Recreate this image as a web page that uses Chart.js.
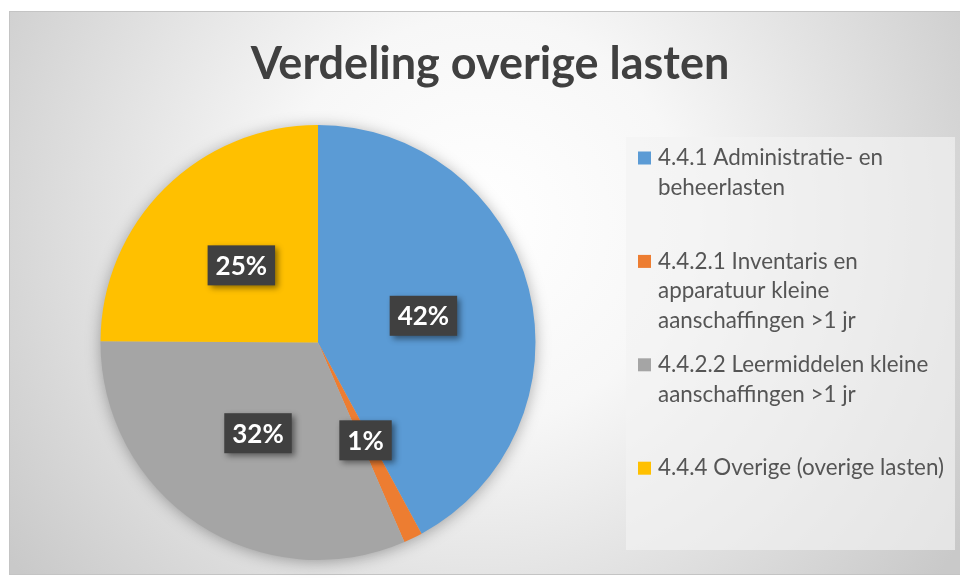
<!DOCTYPE html>
<html>
<head>
<meta charset="utf-8">
<script src="https://cdn.jsdelivr.net/npm/chart.js@4.4.1/dist/chart.umd.min.js"></script>
<style>
  body { margin: 0; background: #ffffff; }
  #wrap { width: 960px; height: 583px; }
</style>
</head>
<body>
<div id="wrap"><canvas id="myChart" width="960" height="583"></canvas></div>
<script>
  // categories (legend lines as shown in the picture)
  let categories = [
    ["4.4.1 Administratie- en", "beheerlasten"],
    ["4.4.2.1 Inventaris en", "apparatuur kleine", "aanschaffingen >1 jr"],
    ["4.4.2.2 Leermiddelen kleine", "aanschaffingen >1 jr"],
    ["4.4.4 Overige (overige lasten)"]
  ]
  // share of each category, in percent
  let shares = [42.1, 1.4, 31.6, 24.9]
  let colors = ['#5B9BD5', '#ED7D31', '#A5A5A5', '#FFC000']
  let title = "Verdeling overige lasten"

  // frame, radial background and the title
  const backdrop = {
    id: 'backdrop',
    beforeDraw(chart) {
      const c = chart.ctx
      c.save()
      const g = c.createRadialGradient(480, 220, 0, 480, 220, 580)
      g.addColorStop(0, '#ffffff')
      g.addColorStop(0.35, '#f7f7f7')
      g.addColorStop(1, '#c9c9c9')
      c.fillStyle = g
      c.fillRect(9, 11, 951, 564)
      c.strokeStyle = '#c4c4c4'
      c.lineWidth = 1
      c.strokeRect(9.5, 11.5, 960, 563)

      c.fillStyle = '#404040'
      c.font = 'bold 45px Lato'
      c.textAlign = 'center'
      c.textBaseline = 'middle'
      c.fillText(title, 490, 64)
      c.restore()
    }
  }

  // soft shadow under the whole pie
  const pieShadow = {
    id: 'pieShadow',
    beforeDatasetsDraw(chart) {
      const arc = chart.getDatasetMeta(0).data[0]
      if (!arc) return
      const c = chart.ctx
      c.save()
      c.shadowColor = 'rgba(0,0,0,0.35)'
      c.shadowBlur = 16
      c.shadowOffsetY = 2
      c.fillStyle = '#bdbdbd'
      c.beginPath()
      c.arc(arc.x, arc.y, arc.outerRadius - 1, 0, Math.PI * 2)
      c.fill()
      c.restore()
    }
  }

  // percentage labels in dark boxes
  const pctLabels = {
    id: 'pctLabels',
    afterDatasetsDraw(chart) {
      const c = chart.ctx
      const meta = chart.getDatasetMeta(0)
      const data = chart.data.datasets[0].data
      const total = data.reduce((a, b) => a + b, 0)
      c.save()
      c.font = 'bold 26px Lato'
      c.textAlign = 'center'
      c.textBaseline = 'middle'
      meta.data.forEach((arc, i) => {
        const p = arc.tooltipPosition()
        const txt = Math.round(data[i] / total * 100) + '%'
        const w = c.measureText(txt).width + 16
        const h = 40
        c.save()
        c.shadowColor = 'rgba(0,0,0,0.45)'
        c.shadowBlur = 6
        c.shadowOffsetX = 3
        c.shadowOffsetY = 3
        c.fillStyle = '#404040'
        c.fillRect(p.x - w / 2, p.y - h / 2, w, h)
        c.restore()
        c.fillStyle = '#ffffff'
        c.fillText(txt, p.x, p.y + 1)
      })
      c.restore()
    }
  }

  // legend box on the right
  const sideLegend = {
    id: 'sideLegend',
    afterDraw(chart) {
      const c = chart.ctx
      c.save()
      c.fillStyle = 'rgba(242,242,242,0.65)'
      c.fillRect(626, 137, 329, 413)
      c.font = '22.4px Lato'
      c.textBaseline = 'middle'
      c.textAlign = 'left'
      categories.forEach((lines, i) => {
        const y0 = 158 + i * 103.4
        c.fillStyle = colors[i]
        c.fillRect(638, y0 - 6.5, 13, 13)
        c.fillStyle = '#555555'
        lines.forEach((ln, j) => {
          c.fillText(ln, 658, y0 + j * 29.5)
        })
      })
      c.restore()
    }
  }

  const ctx = document.getElementById('myChart')

  new Chart(ctx, {
    type: 'pie',
    data: {
      labels: categories,
      datasets: [{
        data: shares,
        backgroundColor: colors,
        borderWidth: 0,
        hoverOffset: 0,
        offset: 0
      }]
    },
    options: {
      responsive: false,
      animation: false,
      events: [],
      layout: {
        padding: { left: 100.5, right: 424.5, top: 125, bottom: 23 }
      },
      plugins: {
        legend: { display: false },
        tooltip: { enabled: false },
        title: { display: false }
      }
    },
    plugins: [backdrop, pieShadow, pctLabels, sideLegend]
  })
</script>
</body>
</html>
